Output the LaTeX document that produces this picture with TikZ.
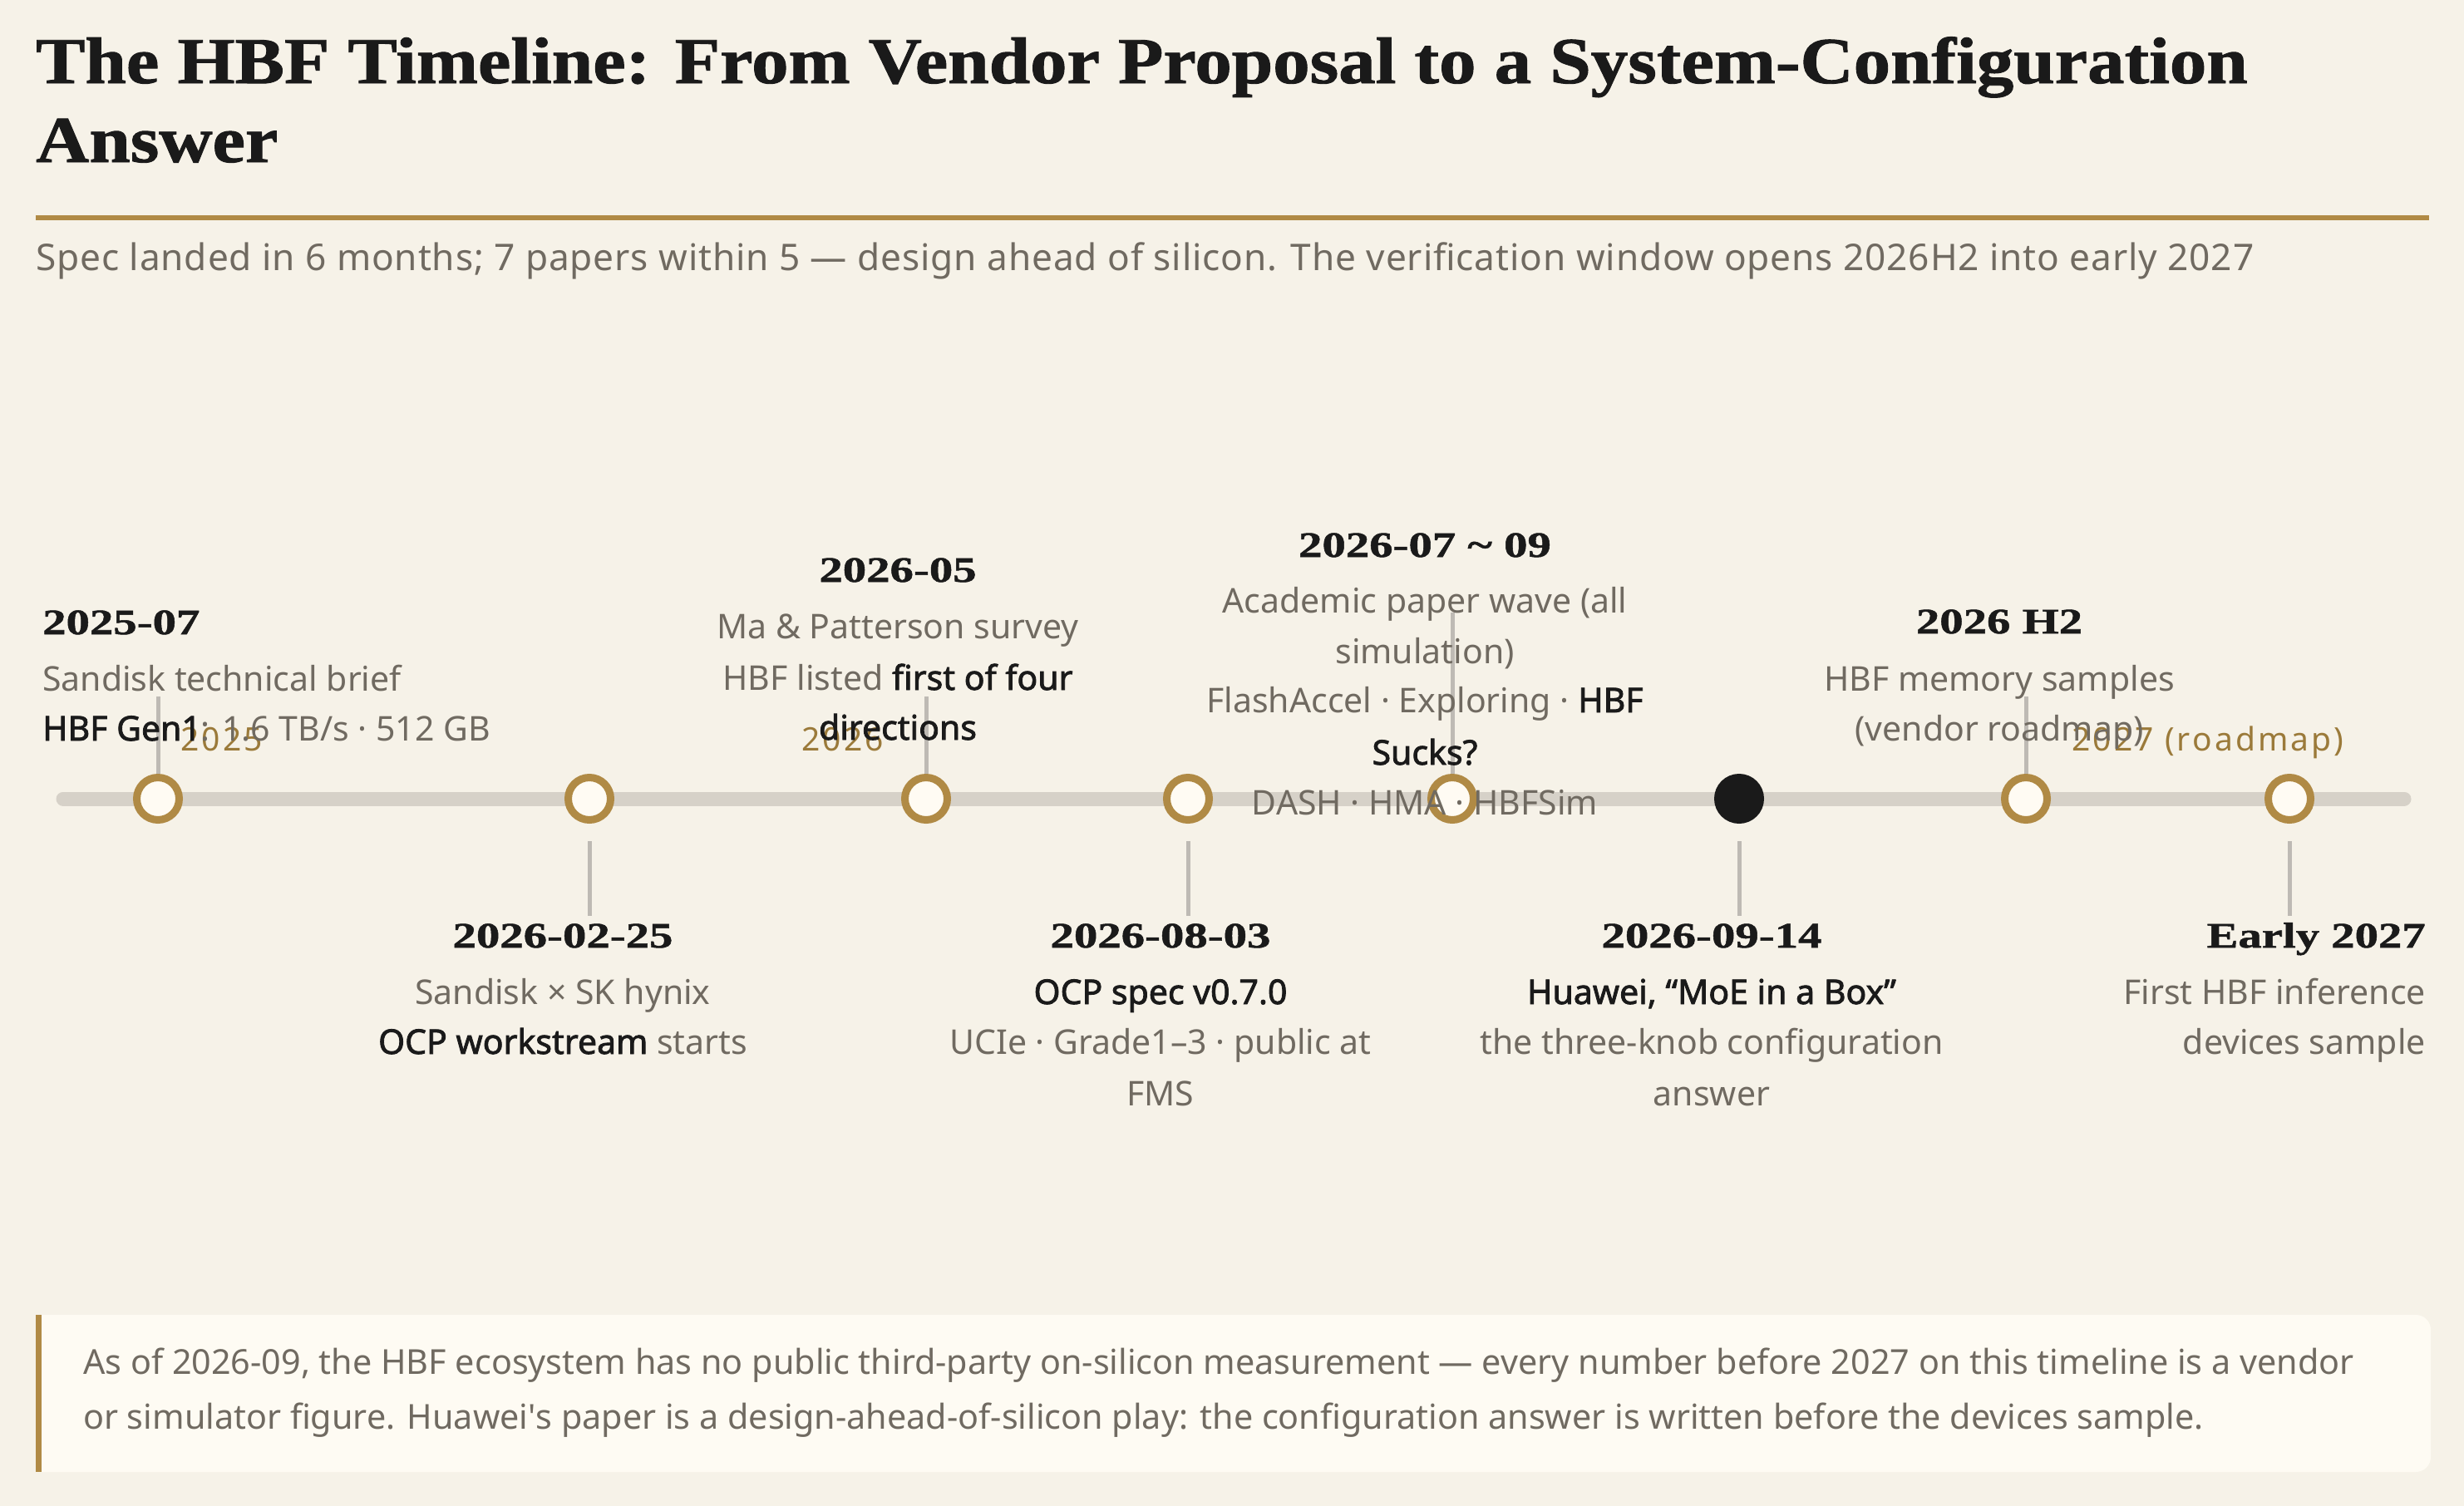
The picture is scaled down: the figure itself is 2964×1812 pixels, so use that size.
\documentclass[tikz,border=0pt]{standalone}
\usepackage{fontspec}
\setmainfont{Noto Sans}
\newfontfamily\boldsans{Noto Sans}[FakeBold=2]
\newfontfamily\serifhd{Liberation Serif}[FakeStretch=1.125, FakeBold=1.2]
\newfontfamily\serifdate{Liberation Serif}[FakeStretch=1.32, FakeBold=1.2]
\newfontfamily\yearfnt{Noto Sans}[LetterSpace=8]
\newfontfamily\subfnt{Noto Sans}[LetterSpace=2]
\definecolor{bg}{RGB}{246,242,232}
\definecolor{cfill}{RGB}{254,251,243}
\definecolor{gold}{RGB}{176,138,69}
\definecolor{yeargold}{RGB}{155,122,58}
\definecolor{axisgray}{RGB}{214,209,200}
\definecolor{stemgray}{RGB}{190,186,180}
\definecolor{muted}{RGB}{112,106,97}
\definecolor{ink}{RGB}{26,26,26}
\definecolor{cream}{RGB}{255,251,243}
\tikzset{
  titletext/.style={font=\serifhd\bfseries\fontsize{79}{79}\selectfont, text=ink, anchor=base west, inner sep=0pt},
  subtext/.style={font=\subfnt\fontsize{44.2}{44.2}\selectfont, text=muted, anchor=base west, inner sep=0pt},
  datetext/.style={font=\serifdate\bfseries\fontsize{43}{43}\selectfont, text=ink, inner sep=0pt},
  body/.style={font=\fontsize{41}{41}\selectfont, text=muted, inner sep=0pt},
  yeartext/.style={font=\yearfnt\fontsize{39}{39}\selectfont, text=yeargold, anchor=base west, inner sep=0pt},
  notetext/.style={font=\fontsize{41.3}{41.3}\selectfont, text=muted, anchor=base west, inner sep=0pt},
  evdot/.style={circle, minimum size=51pt, inner sep=0pt, draw=gold, line width=9pt, fill=cream},
  evdark/.style={circle, minimum size=51pt, inner sep=0pt, draw=ink, line width=9pt, fill=ink},
  axisline/.style={draw=axisgray, line width=17pt, line cap=round},
  stemline/.style={draw=stemgray, line width=5pt},
}
\newcommand{\hb}[1]{{\color{ink}\boldsans #1}}
\begin{document}
\begin{tikzpicture}[x=1pt, y=-1pt]
\fill[bg] (0,0) rectangle (2964,1812);
\useasboundingbox (0,0) rectangle (2964,1812);

% header
\node[titletext] (t1) at (43,100) {The HBF Timeline: From Vendor Proposal to a System-Configuration};
\node[titletext] (t2) at (43,195) {Answer};
\fill[gold] (43,259) rectangle (2922,265);
\node[subtext] (sub) at (43,325) {Spec landed in 6 months; 7 papers within 5 — design ahead of silicon. The verification window opens 2026H2 into early 2027};

% axis
\coordinate (axL) at (76,961);
\coordinate (axR) at (2892,961);
\draw[axisline] (axL) -- (axR);

% year labels
\node[yeartext] (y25) at (217,903) {2025};
\node[yeartext] (y26) at (964,903) {2026};
\node[yeartext] (y27) at (2492,903) {2027 (roadmap)};

% event markers
\node[evdot] (c1) at (190,961) {};
\node[evdot] (c2) at (709,961) {};
\node[evdot] (c3) at (1114,961) {};
\node[evdot] (c4) at (1429,961) {};
\node[evdot] (c5) at (1747,961) {};
\node[evdark] (c6) at (2092,961) {};
\node[evdot] (c7) at (2437,961) {};
\node[evdot] (c8) at (2754,961) {};

% stems
\coordinate (s1) at (190,838);
\coordinate (s3) at (1114,838);
\coordinate (s5) at (1747,737);
\coordinate (s7) at (2437,838);
\draw[stemline] (s1) -- (c1.north);
\draw[stemline] (s3) -- (c3.north);
\draw[stemline] (s5) -- (c5.north);
\draw[stemline] (s7) -- (c7.north);
\coordinate (u2) at (709,1012); \coordinate (v2) at (709,1102);
\coordinate (u4) at (1429,1012); \coordinate (v4) at (1429,1102);
\coordinate (u6) at (2092,1012); \coordinate (v6) at (2092,1102);
\coordinate (u8) at (2754,1012); \coordinate (v8) at (2754,1102);
\draw[stemline] (u2) -- (v2);
\draw[stemline] (u4) -- (v4);
\draw[stemline] (u6) -- (v6);
\draw[stemline] (u8) -- (v8);

% E1 2025-07
\node[datetext, anchor=base west] (d1) at (51,763) {2025-07};
\node[body, anchor=base west] (e1a) at (51,831) {Sandisk technical brief};
\node[body, anchor=base west] (e1b) at (51,891) {\hb{HBF Gen1}: 1.6 TB/s · 512 GB};

% E3 2026-05
\node[datetext, anchor=base] (d3) at (1080,700) {2026-05};
\node[body, anchor=base] (e3a) at (1080,768) {Ma \& Patterson survey};
\node[body, anchor=base] (e3b) at (1080,830) {HBF listed \hb{first of four}};
\node[body, anchor=base] (e3c) at (1080,890) {\hb{directions}};

% E5 2026-07 ~ 09
\node[datetext, anchor=base] (d5) at (1714,670) {2026-07 \char"7E{} 09};
\node[body, anchor=base] (e5a) at (1714,737) {Academic paper wave (all};
\node[body, anchor=base] (e5b) at (1714,798) {simulation)};
\node[body, anchor=base] (e5c) at (1714,857) {FlashAccel · Exploring · \hb{HBF}};
\node[body, anchor=base] (e5d) at (1714,920) {\hb{Sucks?}};
\node[body, anchor=base] (e5e) at (1714,980) {DASH · HMA · HBFSim};

% E7 2026 H2
\node[datetext, anchor=base] (d7) at (2405,762) {2026 H2};
\node[body, anchor=base] (e7a) at (2405,831) {HBF memory samples};
\node[body, anchor=base] (e7b) at (2405,891) {(vendor roadmap)};

% E2 2026-02-25
\node[datetext, anchor=base] (d2) at (677,1140) {2026-02-25};
\node[body, anchor=base] (e2a) at (677,1208) {Sandisk × SK hynix};
\node[body, anchor=base] (e2b) at (677,1268) {\hb{OCP workstream} starts};

% E4 2026-08-03
\node[datetext, anchor=base] (d4) at (1396,1140) {2026-08-03};
\node[body, anchor=base] (e4a) at (1396,1208) {\hb{OCP spec v0.7.0}};
\node[body, anchor=base] (e4b) at (1396,1268) {UCIe · Grade1–3 · public at};
\node[body, anchor=base] (e4c) at (1396,1330) {FMS};

% E6 2026-09-14
\node[datetext, anchor=base] (d6) at (2059,1140) {2026-09-14};
\node[body, anchor=base] (e6a) at (2059,1208) {\hb{Huawei, “MoE in a Box”}};
\node[body, anchor=base] (e6b) at (2059,1268) {the three-knob configuration};
\node[body, anchor=base] (e6c) at (2059,1330) {answer};

% E8 Early 2027
\node[datetext, anchor=base east] (d8) at (2918,1140) {Early 2027};
\node[body, anchor=base east] (e8a) at (2918,1208) {First HBF inference};
\node[body, anchor=base east] (e8b) at (2918,1268) {devices sample};

% callout
\fill[cfill] (43,1582) [rounded corners=18pt] -- (2924,1582) -- (2924,1771) [sharp corners] -- (43,1771) -- cycle;
\fill[gold] (43,1582) rectangle (50,1771);
\node[notetext] (n1) at (100,1653) {As of 2026-09, the HBF ecosystem has no public third-party on-silicon measurement — every number before 2027 on this timeline is a vendor};
\node[notetext] (n2) at (100,1719) {or simulator figure. Huawei\textquotesingle s paper is a design-ahead-of-silicon play: the configuration answer is written before the devices sample.};
\end{tikzpicture}
\end{document}
